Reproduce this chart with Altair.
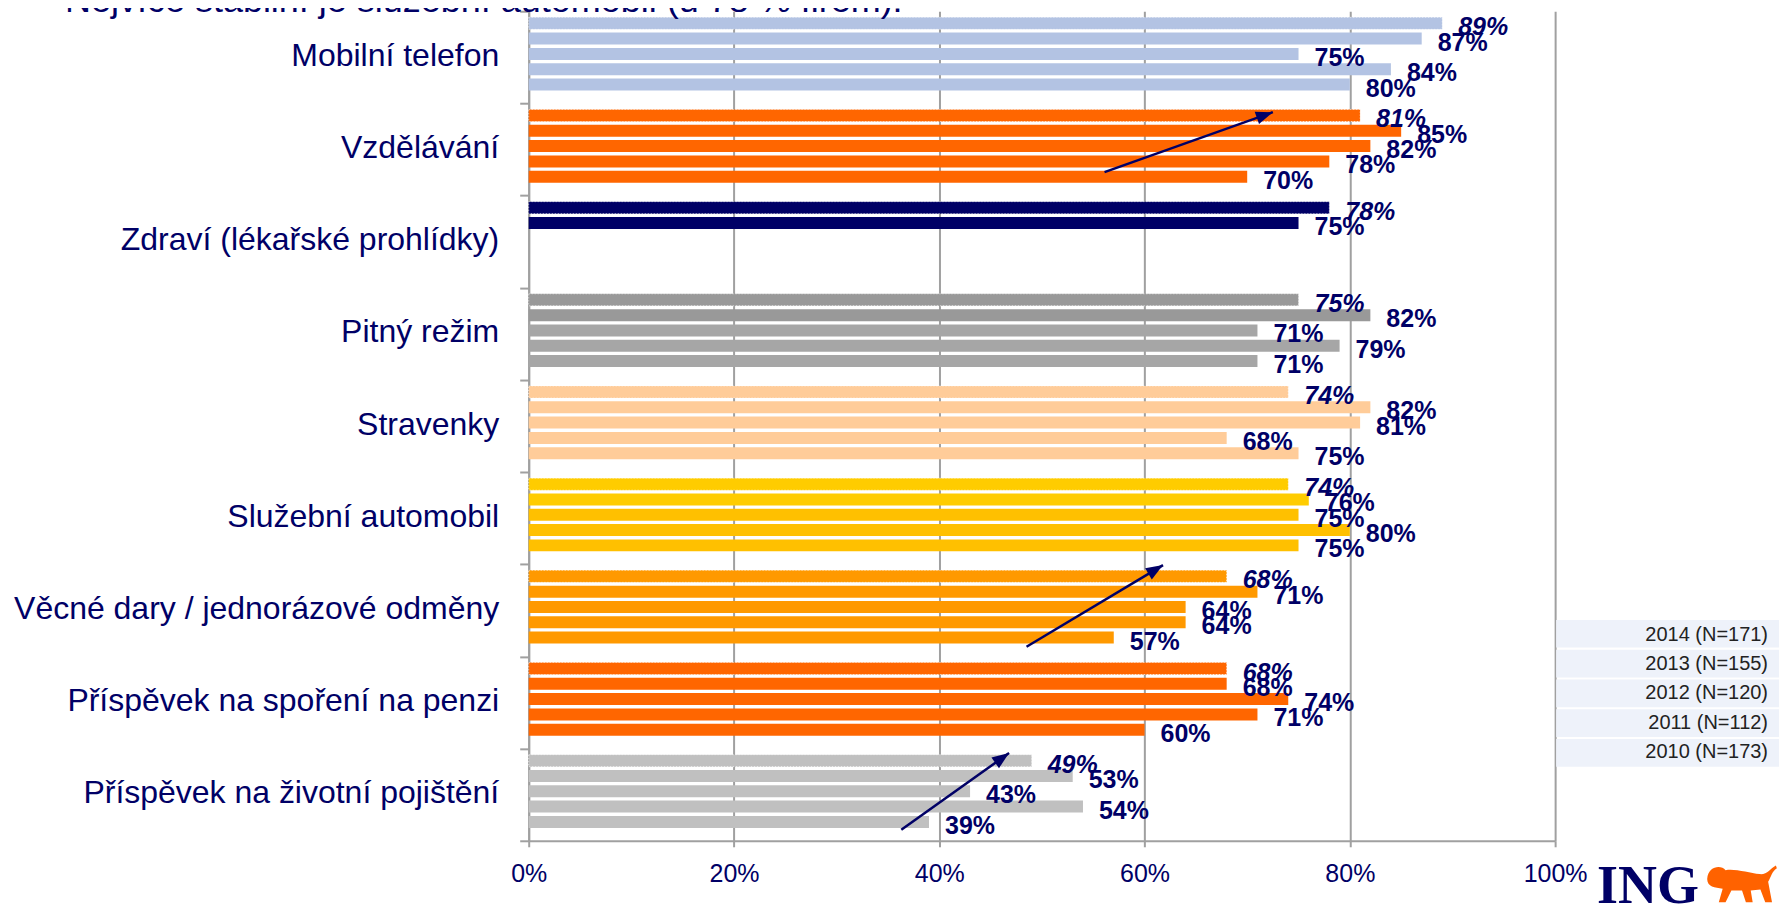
import math
import altair as alt
import pandas as pd

# ---------------- data ----------------
categories = [
    "Mobilní telefon",
    "Vzdělávání",
    "Zdraví (lékařské prohlídky)",
    "Pitný režim",
    "Stravenky",
    "Služební automobil",
    "Věcné dary / jednorázové odměny",
    "Příspěvek na spoření na penzi",
    "Příspěvek na životní pojištění",
]
years = ["2014", "2013", "2012", "2011", "2010"]
legend_labels = ["2014 (N=171)", "2013 (N=155)", "2012 (N=120)", "2011 (N=112)", "2010 (N=173)"]

v2014 = [89, 81, 78, 75, 74, 74, 68, 68, 49]
v2013 = [87, 85, 75, 82, 82, 76, 71, 68, 53]
v2012 = [75, 82, None, 71, 81, 75, 64, 74, 43]
v2011 = [84, 78, None, 79, 68, 80, 64, 71, 54]
v2010 = [80, 70, None, 71, 75, 75, 57, 60, 39]
series = {"2014": v2014, "2013": v2013, "2012": v2012, "2011": v2011, "2010": v2010}

bar_colors = {
    "Mobilní telefon": ["#b3c3e3"] * 5,
    "Vzdělávání": ["#ff6600"] * 5,
    "Zdraví (lékařské prohlídky)": ["#000066"] * 5,
    "Pitný režim": ["#999999", "#999999", "#a6a6a6", "#a6a6a6", "#a6a6a6"],
    "Stravenky": ["#ffcc99"] * 5,
    "Služební automobil": ["#ffcc00", "#ffcc00", "#ffc000", "#ffc000", "#ffc000"],
    "Věcné dary / jednorázové odměny": ["#ff9900"] * 5,
    "Příspěvek na spoření na penzi": ["#ff6600"] * 5,
    "Příspěvek na životní pojištění": ["#c0c0c0"] * 5,
}

# trend arrows: (x as share, y in category-band units from top)
arrow_x0 = [0.561, 0.485, 0.363]
arrow_y0 = [1.746, 6.895, 8.880]
arrow_x1 = [0.725, 0.618, 0.468]
arrow_y1 = [1.095, 6.009, 8.048]

title_text = "Nejvíce stabilní je služební automobil (u 78 % firem):"

# ---------------- layout ----------------
W, H = 1027, 830
NAVY = "#000066"
GRID = "#a0a0a0"
FONT = "Liberation Sans"

rows = []
for ci, cat in enumerate(categories):
    for yi, yr in enumerate(years):
        v = series[yr][ci]
        if v is None:
            continue
        rows.append({"cat": cat, "year": yr, "val": v / 100.0, "label": f"{v}%",
                     "color": bar_colors[cat][yi]})
df = pd.DataFrame(rows)

band_px = H / len(categories)
arr_rows = []
for x0, y0, x1, y1 in zip(arrow_x0, arrow_y0, arrow_x1, arrow_y1):
    dx = (x1 - x0) * W
    dy = (y1 - y0) * band_px
    ang = math.degrees(math.atan2(dx, -dy)) % 360
    arr_rows.append({"x0": x0, "y0": y0, "x1": x1, "y1": y1, "angle": ang})
df_arr = pd.DataFrame(arr_rows)

xs = alt.Scale(domain=[0, 1], nice=False, zero=True)
ycat_scale = alt.Scale(domain=categories, paddingInner=0, paddingOuter=0)
yoff = alt.YOffset("year:N", scale=alt.Scale(domain=years, paddingInner=0.216,
                                             paddingOuter=0.62, align=0.32))

x_axis = alt.Axis(values=[0, 0.2, 0.4, 0.6, 0.8, 1.0], format=".0%", title=None,
                  labelFontSize=25, labelColor=NAVY, labelFont=FONT, labelPadding=15,
                  tickSize=6, tickWidth=2, tickColor=GRID, grid=True, gridColor=GRID,
                  gridWidth=2, domainColor=GRID, domainWidth=2, labelFlush=False)
y_axis = alt.Axis(title=None, labelFontSize=32, labelColor=NAVY, labelFont=FONT,
                  labelLimit=700, labelPadding=21, labelOffset=-2, tickSize=9,
                  tickWidth=2, tickColor=GRID, tickBand="extent", domainColor=GRID,
                  domainWidth=2, grid=False)

bars = alt.Chart(df).mark_bar(stroke="white", strokeDash=[1, 2], strokeWidth=1).encode(
    x=alt.X("val:Q", scale=xs, axis=x_axis),
    y=alt.Y("cat:N", scale=ycat_scale, axis=y_axis),
    yOffset=yoff,
    color=alt.Color("color:N", scale=None),
    strokeOpacity=alt.condition("datum.year == '2014'", alt.value(0.7), alt.value(0)),
)

def label_layer(filt, style):
    return alt.Chart(df).transform_filter(filt).mark_text(
        align="left", baseline="middle", dx=16, dy=4, fontSize=25, fontWeight="bold",
        fontStyle=style, color=NAVY, font=FONT,
    ).encode(
        x=alt.X("val:Q", scale=xs, axis=x_axis),
        y=alt.Y("cat:N", scale=ycat_scale, axis=None),
        yOffset=yoff,
        text="label:N",
    )

labels14 = label_layer("datum.year == '2014'", "italic")
labels_rest = label_layer("datum.year != '2014'", "normal")

ya = alt.Scale(domain=[0, len(categories)], range=[0, H], nice=False, zero=False)
arrow_lines = alt.Chart(df_arr).mark_rule(color=NAVY, strokeWidth=2.5).encode(
    x=alt.X("x0:Q", scale=xs, axis=x_axis), x2="x1:Q",
    y=alt.Y("y0:Q", scale=ya, axis=None), y2="y1:Q",
)
head_path = "M0,0 L0.65,1.7 L-0.65,1.7 Z"
arrow_heads = alt.Chart(df_arr).mark_point(shape=head_path, filled=True, size=400,
                                           color=NAVY, opacity=1, strokeWidth=0).encode(
    x=alt.X("x1:Q", scale=xs, axis=x_axis),
    y=alt.Y("y1:Q", scale=ya, axis=None),
    angle=alt.Angle("angle:Q", scale=None),
)

df_leg = pd.DataFrame({"label": legend_labels})
leg_scale = alt.Scale(domain=legend_labels, range=[609, 756], paddingInner=0.07, paddingOuter=0)
leg_rect = alt.Chart(df_leg).mark_rect(color="#eef2fa").encode(
    x=alt.value(1028), x2=alt.value(1251),
    y=alt.Y("label:N", scale=leg_scale, axis=None),
)
leg_text = alt.Chart(df_leg).mark_text(align="right", baseline="middle", fontSize=20,
                                       color="#222222", font=FONT).encode(
    x=alt.value(1240),
    y=alt.Y("label:N", scale=leg_scale, axis=None),
    text="label:N",
)

title = alt.Chart(pd.DataFrame({"t": [title_text]})).mark_text(
    align="left", baseline="alphabetic", fontSize=36, color=NAVY, font=FONT,
).encode(x=alt.value(-464), y=alt.value(1), text="t:N")

logo_text = alt.Chart(pd.DataFrame({"t": ["ING"]})).mark_text(
    align="left", baseline="alphabetic", fontSize=54, fontWeight="bold",
    font="Liberation Serif", color=NAVY,
).encode(x=alt.value(1069), y=alt.value(892), text="t:N")

lion_path = ("M-1.8,-0.3 C-1.75,-0.95 -1.1,-1.05 -0.85,-0.75 C-0.4,-0.85 0.4,-0.6 0.9,-0.55 "
             "C1.3,-0.5 1.45,-0.85 1.75,-1.0 L1.8,-0.85 C1.55,-0.7 1.5,-0.4 1.35,-0.15 "
             "L1.55,0.9 L1.2,0.9 L0.95,0.25 L0.45,0.3 L0.55,0.9 L0.2,0.9 L0.0,0.3 "
             "L-0.55,0.3 L-0.85,0.9 L-1.2,0.9 L-1.0,0.2 C-1.4,0.15 -1.8,0.1 -1.8,-0.3 Z")
lion = alt.Chart(pd.DataFrame({"t": ["lion"]})).mark_point(
    shape=lion_path, filled=True, size=1500, color="#ff6200", opacity=1, strokeWidth=0,
).encode(x=alt.value(1214), y=alt.value(874))

chart = alt.layer(
    bars, labels14, labels_rest, arrow_lines, arrow_heads,
    leg_rect, leg_text, title, logo_text, lion,
).resolve_scale(y="independent").properties(
    width=W, height=H,
    padding={"left": 521, "top": 3, "right": 224, "bottom": 64},
    autosize=alt.AutoSizeParams(type="none"),
    background="white",
).configure_view(stroke=None).configure_axis(labelFont=FONT)

chart.save("out.html", embed_options={"renderer": "svg", "actions": False})
